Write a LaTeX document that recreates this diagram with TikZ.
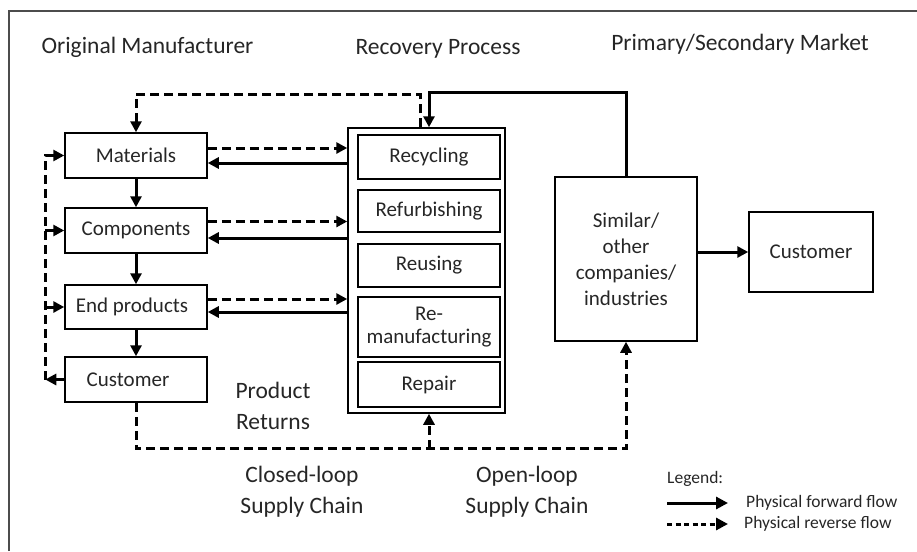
\documentclass[tikz,border=0pt]{standalone}
\usepackage{fontspec}
\setmainfont{Carlito}
\usetikzlibrary{arrows.meta}
\begin{document}
\begin{tikzpicture}[x=1pt,y=-1pt,
  box/.style={draw, line width=1.5pt, inner sep=0pt, align=center,
    font=\fontsize{21}{25}\selectfont, text=black!85},
  head/.style={inner sep=0pt, font=\fontsize{23.5}{28}\selectfont, text=black!85},
  lbl/.style={inner sep=0pt, align=center, font=\fontsize{23.5}{31}\selectfont, text=black!85},
  leg/.style={inner sep=0pt, anchor=west, font=\fontsize{17.5}{20}\selectfont, text=black!85},
  fwd/.style={line width=3pt, -{Triangle[length=11pt,width=11pt]}},
  rev/.style={fwd, dash pattern=on 9pt off 5pt},
  legfwd/.style={line width=3pt, -{Triangle[length=12pt,width=12pt]}},
  legrev/.style={legfwd, dash pattern=on 5pt off 3.5pt}]
\useasboundingbox (0,0) rectangle (917,551);

% outer frame (only the top and left edges are in view)
\draw[line width=2pt, black!70] (9,551) -- (9,11) -- (917,11);

% column headings
\node[head] (hOM) at (147.5,47) {Original Manufacturer};
\node[head] (hRP) at (438,49) {Recovery Process};
\node[head] (hPS) at (740,44) {Primary/Secondary Market};

% original manufacturer chain
\node[box, minimum width=142pt, minimum height=45pt] (mat)  at (136,155.5) {Materials};
\node[box, minimum width=142pt, minimum height=45pt] (comp) at (136,230.5) {Components};
\node[box, minimum width=142pt, minimum height=44pt] (endp) at (136,307) {\hspace*{-8pt}End products};
\node[box, minimum width=142pt, minimum height=45pt] (cust) at (136,379.5) {\hspace*{-16pt}Customer};

% recovery process container and its options
\node[draw, line width=1.5pt, minimum width=157pt, minimum height=285pt, inner sep=0pt] (rec) at (426.5,270.5) {};
\node[box, minimum width=142pt, minimum height=44pt] (rcy) at (429,157) {Recycling};
\node[box, minimum width=142pt, minimum height=42pt] (rfb) at (429,211) {Refurbishing};
\node[box, minimum width=142pt, minimum height=43pt] (rus) at (429,265.5) {Reusing};
\node[box, minimum width=142pt, minimum height=60pt, font=\fontsize{21}{23}\selectfont] (rmf) at (429,327) {Re-\\manufacturing};
\node[box, minimum width=142pt, minimum height=45pt] (rep) at (429,384.5) {Repair};

% primary / secondary market
\node[box, minimum width=142pt, minimum height=164pt, font=\fontsize{21}{26}\selectfont] (sim) at (626,259) {Similar/\\other\\companies/\\industries};
\node[box, minimum width=124pt, minimum height=80pt] (cust2) at (811,252) {Customer};

% forward flow down the chain
\draw[fwd] (mat.south) -- (comp.north);
\draw[fwd] (comp.south) -- (endp.north);
\draw[fwd] (endp.south) -- (cust.north);

% exchanges with the recovery process
\coordinate (m1) at ([yshift=7.5pt]mat.east);
\coordinate (m2) at ([yshift=-7.5pt]mat.east);
\coordinate (c1) at ([yshift=9pt]comp.east);
\coordinate (c2) at ([yshift=-7.5pt]comp.east);
\coordinate (e1) at ([yshift=8pt]endp.east);
\coordinate (e2) at ([yshift=-5pt]endp.east);
\draw[rev] (m1) -- (m1 -| rec.west);
\draw[fwd] (m2 -| rec.west) -- (m2);
\draw[rev] (c1) -- (c1 -| rec.west);
\draw[fwd] (c2 -| rec.west) -- (c2);
\draw[rev] (e1) -- (e1 -| rec.west);
\draw[fwd] (e2 -| rec.west) -- (e2);

% customer returns looping back into the chain
\coordinate (lf) at ([xshift=-19pt]cust.west);
\draw[rev] (cust.west) -- (lf);
\draw[rev] (lf) |- (mat.west);
\draw[rev] (lf |- comp.west) -- (comp.west);
\draw[rev] (lf |- endp.west) -- (endp.west);

% recovered materials back to the start
\coordinate (t1) at ([xshift=-6.5pt]rec.north);
\draw[rev] (t1) -- ++(0,-33) -| (mat.north);

% secondary market feeding the recovery process
\coordinate (t2) at ([xshift=2.5pt]rec.north);
\draw[fwd] (sim.north) -- ++(0,-84) -| (t2);

% product returns along the bottom
\coordinate (bl) at ([yshift=-46pt]cust.south);
\coordinate (b1) at ([xshift=2.5pt]rec.south);
\draw[rev] (cust.south) -- (bl) -| (sim.south);
\draw[rev] (bl -| b1) -- (b1);

% sale to the end customer
\draw[fwd] (cust2.west -| sim.east) -- (cust2.west);

% labels
\node[lbl] (pr) at (273,406) {Product\\Returns};
\node[lbl] (cl) at (302,492) {Closed-loop\\Supply Chain};
\node[lbl] (ol) at (527,492) {Open-loop\\Supply Chain};

% legend
\node[leg] (lg) at (667,479) {Legend:};
\coordinate (lf1) at (667,503);
\coordinate (lt1) at (728,503);
\coordinate (lf2) at (667,524);
\coordinate (lt2) at (728,524);
\draw[legfwd] (lf1) -- (lt1);
\draw[legrev] (lf2) -- (lt2);
\node[leg] (lgf) at (746,503) {Physical forward flow};
\node[leg] (lgr) at (744,524) {Physical reverse flow};
\end{tikzpicture}
\end{document}
